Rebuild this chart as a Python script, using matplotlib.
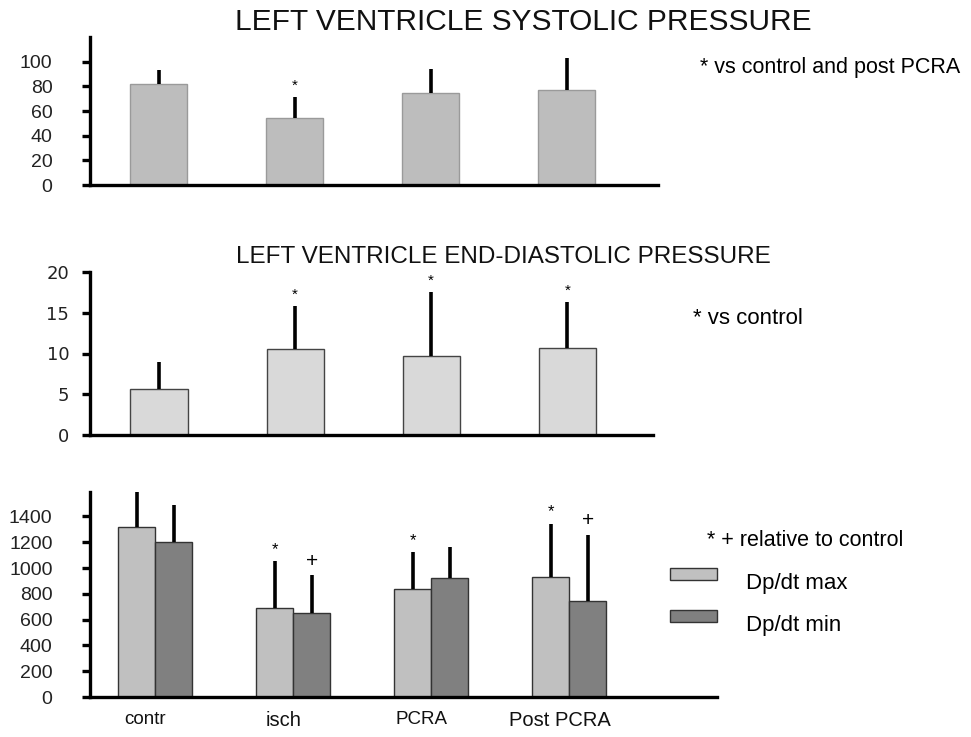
import numpy as np
import matplotlib
matplotlib.use('Agg')
import matplotlib.pyplot as plt
from matplotlib.patches import Rectangle

plt.rcParams['font.family'] = ['Liberation Sans', 'DejaVu Sans']

groups = ['contr', 'isch', 'PCRA', 'Post PCRA']

# systolic pressure
sys_mean = [82, 54, 74.5, 77]
sys_sd = [11, 17, 19.5, 26]
sys_mark = ['', '*', '', '']

# end-diastolic pressure
edp_mean = [5.7, 10.6, 9.75, 10.7]
edp_sd = [3.3, 5.2, 7.75, 5.6]
edp_mark = ['', '*', '*', '*']

# dp/dt
dpmax_mean = [1315, 690, 838, 928]
dpmax_sd = [280, 364, 285, 417]
dpmax_mark = ['', '*', '*', '*']
dpmin_mean = [1206, 650, 920, 743]
dpmin_sd = [284, 294, 240, 517]
dpmin_mark = ['', '+', '', '+']

W, H = 971, 737
fig = plt.figure(figsize=(W / 100, H / 100), dpi=100)


def px_axes(x0, y0, x1, y1):
    # axes from pixel box (top-left origin)
    return fig.add_axes([x0 / W, 1 - y1 / H, (x1 - x0) / W, (y1 - y0) / H])


def style(ax, pad, size=14):
    for s in ['top', 'right']:
        ax.spines[s].set_visible(False)
    ax.spines['left'].set_linewidth(2.4)
    ax.spines['bottom'].set_linewidth(2.4)
    ax.tick_params(axis='y', direction='out', length=6, width=2.4, pad=pad, labelsize=size,
                   labelcolor='#222222')
    ax.tick_params(axis='x', length=0)
    ax.set_xticks([])


def marks(ax, x, top, labels, size=11):
    for xi, ti, m in zip(x, top, labels):
        if m:
            ax.annotate(m, (xi, ti), xytext=(0, 3), textcoords='offset points',
                        ha='center', va='bottom', fontsize=size)


x = np.arange(len(groups))

# ---- panel 1
ax1 = px_axes(90, 37, 658, 185)
ax1.bar(x, sys_mean, width=0.42, color='#bdbdbd', edgecolor='#9a9a9a', linewidth=1, zorder=2)
ax1.errorbar(x, sys_mean, yerr=[np.zeros(4), sys_sd], fmt='none', ecolor='black',
             elinewidth=2.6, capsize=0, zorder=3)
marks(ax1, x, np.add(sys_mean, sys_sd), sys_mark)
ax1.set_xlim(-0.507, 3.67)
ax1.set_ylim(0, 120)
ax1.set_yticks(range(0, 101, 20))
style(ax1, 21)

# ---- panel 2
ax2 = px_axes(90, 272, 653, 435)
ax2.bar(x, edp_mean, width=0.42, color='#d9d9d9', edgecolor='#444444', linewidth=1, zorder=2)
ax2.errorbar(x, edp_mean, yerr=[np.zeros(4), edp_sd], fmt='none', ecolor='black',
             elinewidth=2.6, capsize=0, zorder=3)
marks(ax2, x, np.add(edp_mean, edp_sd), edp_mark)
ax2.set_xlim(-0.507, 3.63)
ax2.set_ylim(0, 20)
ax2.set_yticks(range(0, 21, 5))
style(ax2, 9, 13)
for t in ax2.get_yticklabels():
    t.set_family('DejaVu Sans')

# ---- panel 3
ax3 = px_axes(90, 492, 717, 697)
bw = 0.268
ax3.bar(x - bw / 2, dpmax_mean, width=bw, color='#c0c0c0', edgecolor='#333333', linewidth=1, zorder=2,
        label='Dp/dt max')
ax3.bar(x + bw / 2, dpmin_mean, width=bw, color='#808080', edgecolor='#333333', linewidth=1, zorder=2,
        label='Dp/dt min')
ax3.errorbar(x - bw / 2, dpmax_mean, yerr=[np.zeros(4), dpmax_sd], fmt='none', ecolor='black',
             elinewidth=2.6, capsize=0, zorder=3)
ax3.errorbar(x + bw / 2, dpmin_mean, yerr=[np.zeros(4), dpmin_sd], fmt='none', ecolor='black',
             elinewidth=2.6, capsize=0, zorder=3)
marks(ax3, x - bw / 2, np.add(dpmax_mean, dpmax_sd), dpmax_mark, 12)
marks(ax3, x + bw / 2, np.add(dpmin_mean, dpmin_sd), dpmin_mark, 15)
ax3.set_xlim(-0.471, 4.07)
ax3.set_ylim(0, 1590)
ax3.set_yticks(range(0, 1401, 200))
style(ax3, 21)
label_size = {'contr': 13.5, 'isch': 14.5, 'PCRA': 13.5, 'Post PCRA': 14.5}
for xi, g in zip(x, groups):
    ax3.annotate(g, (xi - 0.07, 0), xytext=(0, -10), textcoords='offset points',
                 ha='center', va='top', fontsize=label_size[g], color='#111111')

# titles and notes
fig.text(523 / W, 1 - 22 / H, 'LEFT VENTRICLE SYSTOLIC PRESSURE', ha='center', va='center',
         fontsize=21.5, color='#111111')
fig.text(503 / W, 1 - 257 / H, 'LEFT VENTRICLE END-DIASTOLIC PRESSURE', ha='center', va='center',
         fontsize=17.5, color='#111111')
fig.text(700 / W, 1 - 68 / H, '* vs control and post PCRA', ha='left', va='center', fontsize=15.5)
fig.text(693 / W, 1 - 318 / H, '* vs control', ha='left', va='center', fontsize=16)
fig.text(707 / W, 1 - 540 / H, '* + relative to control', ha='left', va='center', fontsize=15.5)

# legend drawn by hand as boxes + text
for (c, lab, yc) in [('#c0c0c0', 'Dp/dt max', 574), ('#808080', 'Dp/dt min', 616)]:
    fig.patches.append(Rectangle((670 / W, 1 - (yc + 6) / H), 47 / W, 12 / H, transform=fig.transFigure,
                                 facecolor=c, edgecolor='#333333', linewidth=1))
    fig.text(746 / W, 1 - (yc + 10) / H, lab, ha='left', va='center', fontsize=16)

fig.savefig('out.png', dpi=100)
